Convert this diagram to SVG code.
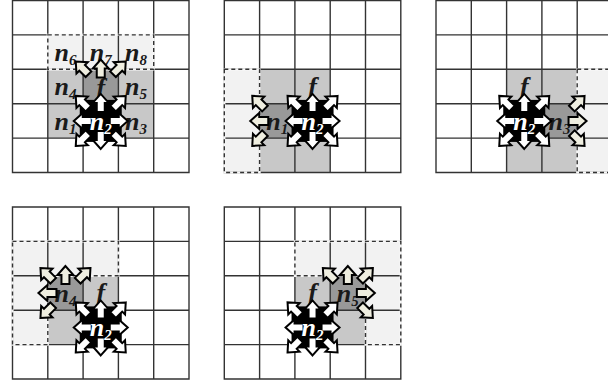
<svg xmlns="http://www.w3.org/2000/svg" width="608" height="381" viewBox="0 0 608 381">
<style>
.grid{fill:none;stroke:#333;stroke-width:1.4}
.cover{fill:none;stroke:#f7f7f7;stroke-width:2.2}
.dash{fill:none;stroke:#333;stroke-width:1.4;stroke-dasharray:4 3}
.vl{fill:#f2f2f2}
.lg{fill:#c8c8c8}
.dg{fill:#999}
.bk{fill:#000}
.lbl{font-family:"Liberation Serif","Times New Roman",serif;font-style:italic;font-weight:bold;font-size:26px;fill:#1a1a1a;text-anchor:middle}
.lbl.wt{fill:#fff}
.sub{font-size:15px}
.w{fill:#fff;stroke:#000;stroke-width:2;stroke-linejoin:miter}
.b{fill:#efeee0;stroke:#000;stroke-width:2;stroke-linejoin:miter}
</style>
<defs>
<path id="arr" d="M0,0 L-9,-8 L-9,-4 L-18,-4 L-18,4 L-9,4 L-9,8 Z"/>
<path id="gridp" d="M0,0H176.5V172H0Z M35.3,0V172 M70.6,0V172 M105.9,0V172 M141.2,0V172 M0,34.4H176.5 M0,68.8H176.5 M0,103.2H176.5 M0,137.6H176.5"/>
<g id="a-r"><use href="#arr" transform="translate(27,0)"/></g>
<g id="a-dr"><use href="#arr" transform="translate(25,25) rotate(45)"/></g>
<g id="a-d"><use href="#arr" transform="translate(0,28) rotate(90)"/></g>
<g id="a-dl"><use href="#arr" transform="translate(-25,25) rotate(135)"/></g>
<g id="a-l"><use href="#arr" transform="translate(-27,0) rotate(180)"/></g>
<g id="a-ul"><use href="#arr" transform="translate(-25,-25) rotate(225)"/></g>
<g id="a-u"><use href="#arr" transform="translate(0,-27) rotate(270)"/></g>
<g id="a-ur"><use href="#arr" transform="translate(25,-25) rotate(315)"/></g>
<g id="n2arrows">
<rect x="-21" y="-21" width="42" height="42" class="bk"/>
<g class="w">
<use href="#a-r"/><use href="#a-dr"/><use href="#a-d"/><use href="#a-dl"/>
<use href="#a-l"/><use href="#a-ul"/><use href="#a-u"/><use href="#a-ur"/>
</g>
</g>
</defs>

<!-- Panel 1 -->
<g id="panel1" transform="translate(12.5,0.5)">
<rect class="vl" x="35.3" y="34.4" width="105.9" height="34.4"/>
<rect class="lg" x="35.3" y="68.8" width="105.9" height="68.8"/>
<rect class="dg" x="70.6" y="68.8" width="35.3" height="34.4"/>
<rect class="bk" x="70.6" y="103.2" width="35.3" height="34.4"/>
<use href="#gridp" class="grid"/>
<path class="cover" d="M35.3,34.4H141.2V68.8H35.3Z"/>
<path class="dash" d="M35.3,34.4H141.2V68.8H35.3Z"/>
<g id="p1-n6"><text class="lbl" x="52.95" y="60">n<tspan class="sub" dy="4">6</tspan></text></g>
<g id="p1-n7"><text class="lbl" x="88.25" y="60">n<tspan class="sub" dy="4">7</tspan></text></g>
<g id="p1-n8"><text class="lbl" x="123.55" y="60">n<tspan class="sub" dy="4">8</tspan></text></g>
<g id="p1-n4"><text class="lbl" x="52.95" y="94.5">n<tspan class="sub" dy="4">4</tspan></text></g>
<g id="p1-f"><text class="lbl" x="88.25" y="95">f</text></g>
<g id="p1-n5"><text class="lbl" x="123.55" y="94.5">n<tspan class="sub" dy="4">5</tspan></text></g>
<g id="p1-n1"><text class="lbl" x="52.95" y="129">n<tspan class="sub" dy="4">1</tspan></text></g>
<g id="p1-n3"><text class="lbl" x="123.55" y="129">n<tspan class="sub" dy="4">3</tspan></text></g>
<g id="p1-f-arrows" class="b" transform="translate(88.25,86)">
<use href="#a-ul"/><use href="#a-u"/><use href="#a-ur"/>
</g>
<g id="p1-n2">
<use href="#n2arrows" transform="translate(88.25,120.4)"/>
<text class="lbl wt" x="88.25" y="129">n<tspan class="sub" dy="4">2</tspan></text>
</g>
</g>

<!-- Panel 2 -->
<g id="panel2" transform="translate(224.3,0.5)">
<rect class="vl" x="0" y="68.8" width="35.3" height="103.2"/>
<rect class="lg" x="35.3" y="68.8" width="70.6" height="103.2"/>
<rect class="dg" x="35.3" y="103.2" width="35.3" height="34.4"/>
<rect class="bk" x="70.6" y="103.2" width="35.3" height="34.4"/>
<use href="#gridp" class="grid"/>
<path class="cover" d="M0,68.8H35.3V172H0Z"/>
<path class="dash" d="M0,68.8H35.3V172H0Z"/>
<g id="p2-f"><text class="lbl" x="88.25" y="94">f</text></g>
<g id="p2-n1"><text class="lbl" x="52.95" y="129">n<tspan class="sub" dy="4">1</tspan></text></g>
<g id="p2-n1-arrows" class="b" transform="translate(52.95,120.4)">
<use href="#a-ul"/><use href="#a-l"/><use href="#a-dl"/>
</g>
<g id="p2-n2">
<use href="#n2arrows" transform="translate(88.25,120.4)"/>
<text class="lbl wt" x="88.25" y="129">n<tspan class="sub" dy="4">2</tspan></text>
</g>
</g>

<!-- Panel 3 -->
<g id="panel3" transform="translate(436,0.5)">
<rect class="vl" x="141.2" y="68.8" width="35.3" height="103.2"/>
<rect class="lg" x="70.6" y="68.8" width="70.6" height="103.2"/>
<rect class="dg" x="105.9" y="103.2" width="35.3" height="34.4"/>
<rect class="bk" x="70.6" y="103.2" width="35.3" height="34.4"/>
<use href="#gridp" class="grid"/>
<path class="cover" d="M141.2,68.8H176.5V172H141.2Z"/>
<path class="dash" d="M141.2,68.8H176.5V172H141.2Z"/>
<g id="p3-f"><text class="lbl" x="88.25" y="94">f</text></g>
<g id="p3-n3"><text class="lbl" x="123.55" y="129">n<tspan class="sub" dy="4">3</tspan></text></g>
<g id="p3-n3-arrows" class="b" transform="translate(123.55,120.4)">
<use href="#a-ur"/><use href="#a-r"/><use href="#a-dr"/>
</g>
<g id="p3-n2">
<use href="#n2arrows" transform="translate(88.25,120.4)"/>
<text class="lbl wt" x="88.25" y="129">n<tspan class="sub" dy="4">2</tspan></text>
</g>
</g>

<!-- Panel 4 -->
<g id="panel4" transform="translate(12.5,207)">
<path class="vl" d="M0,34.4H105.9V68.8H35.3V137.6H0Z"/>
<rect class="lg" x="35.3" y="68.8" width="70.6" height="68.8"/>
<rect class="dg" x="35.3" y="68.8" width="35.3" height="34.4"/>
<rect class="bk" x="70.6" y="103.2" width="35.3" height="34.4"/>
<use href="#gridp" class="grid"/>
<path class="cover" d="M0,34.4H105.9V68.8H35.3V137.6H0Z"/>
<path class="dash" d="M0,34.4H105.9V68.8H35.3V137.6H0Z"/>
<g id="p4-f"><text class="lbl" x="88.25" y="94">f</text></g>
<g id="p4-n4"><text class="lbl" x="52.95" y="94.5">n<tspan class="sub" dy="4">4</tspan></text></g>
<g id="p4-n4-arrows" class="b" transform="translate(52.95,86)">
<use href="#a-ul"/><use href="#a-u"/><use href="#a-ur"/><use href="#a-l"/><use href="#a-dl"/>
</g>
<g id="p4-n2">
<use href="#n2arrows" transform="translate(88.25,120.4)"/>
<text class="lbl wt" x="88.25" y="129">n<tspan class="sub" dy="4">2</tspan></text>
</g>
</g>

<!-- Panel 5 -->
<g id="panel5" transform="translate(224.3,207)">
<path class="vl" d="M70.6,34.4H176.5V137.6H141.2V68.8H70.6Z"/>
<rect class="lg" x="70.6" y="68.8" width="70.6" height="68.8"/>
<rect class="dg" x="105.9" y="68.8" width="35.3" height="34.4"/>
<rect class="bk" x="70.6" y="103.2" width="35.3" height="34.4"/>
<use href="#gridp" class="grid"/>
<path class="cover" d="M70.6,34.4H176.5V137.6H141.2V68.8H70.6Z"/>
<path class="dash" d="M70.6,34.4H176.5V137.6H141.2V68.8H70.6Z"/>
<g id="p5-f"><text class="lbl" x="88.25" y="94">f</text></g>
<g id="p5-n5"><text class="lbl" x="123.55" y="94.5">n<tspan class="sub" dy="4">5</tspan></text></g>
<g id="p5-n5-arrows" class="b" transform="translate(123.55,86)">
<use href="#a-ul"/><use href="#a-u"/><use href="#a-ur"/><use href="#a-r"/><use href="#a-dr"/>
</g>
<g id="p5-n2">
<use href="#n2arrows" transform="translate(88.25,120.4)"/>
<text class="lbl wt" x="88.25" y="129">n<tspan class="sub" dy="4">2</tspan></text>
</g>
</g>
</svg>
